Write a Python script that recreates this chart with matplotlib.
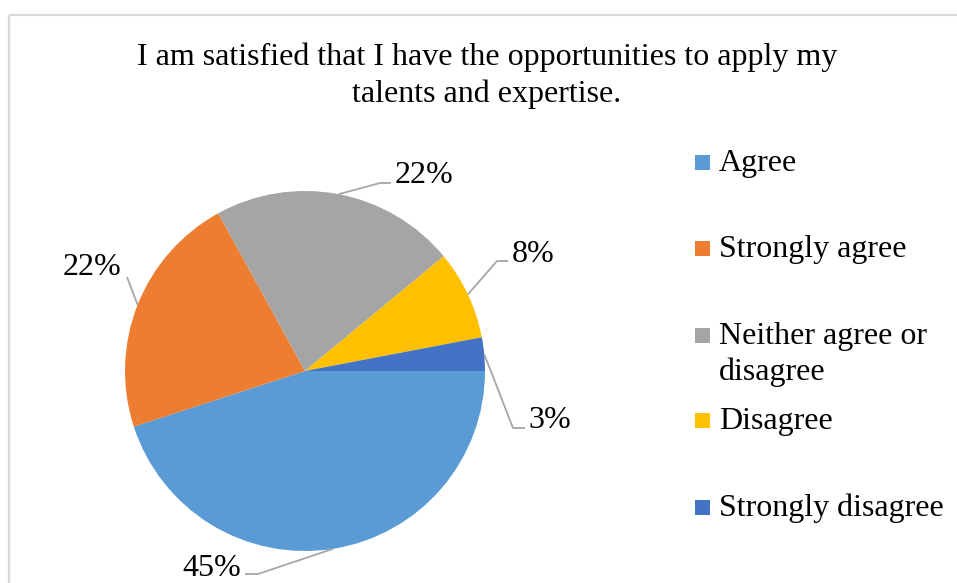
import numpy as np
import matplotlib.pyplot as plt
from matplotlib.patches import Rectangle

plt.rcParams['font.family'] = ['Liberation Serif', 'DejaVu Serif']

# survey answers
title = "I am satisfied that I have the opportunities to apply my\ntalents and expertise."
categories = ["Agree", "Strongly agree", "Neither agree or\ndisagree", "Disagree", "Strongly disagree"]
shares = [45, 22, 22, 8, 3]
pct_labels = ["45%", "22%", "22%", "8%", "3%"]
colors = ["#5B9BD5", "#ED7D31", "#A5A5A5", "#FFC000", "#4472C4"]

W, H = 957, 583
FS = 23
fig = plt.figure(figsize=(W / 100, H / 100), dpi=100)
ax = fig.add_axes([0, 0, 1, 1])

# pie in pixel units, y pointing down so slices run clockwise from 3 o'clock
cx, cy, r = 305, 371, 180
wedges, _ = ax.pie(shares, colors=colors, startangle=0, counterclock=True,
                   center=(cx, cy), radius=r, wedgeprops=dict(linewidth=0))
ax.set_xlim(0, W)
ax.set_ylim(H, 0)
ax.set_aspect('auto')
ax.axis('off')

# chart area border
ax.add_patch(Rectangle((9, 15), W, H, fill=False, ec='#D9D9D9', lw=1.6))

# title
for i, line in enumerate(title.split('\n')):
    ax.text(487, 65 + 37 * i, line, ha='center', va='baseline', fontsize=FS)

# data labels: text position, alignment, leader line points after the slice edge
label_layout = [
    (241, 576, 'right', [(258, 574), (245, 574)]),
    (63, 275, 'left', [(127, 277)]),
    (395, 183, 'left', [(380, 183), (391, 183)]),
    (512, 262, 'left', [(497, 261), (508, 261)]),
    (528, 428, 'left', [(513, 428), (525, 428)]),
]
for w, lab, (tx, ty, ha, path) in zip(wedges, pct_labels, label_layout):
    mid = np.deg2rad((w.theta1 + w.theta2) / 2)
    sx, sy = cx + r * np.cos(mid), cy + r * np.sin(mid)
    xs = [sx] + [p[0] for p in path]
    ys = [sy] + [p[1] for p in path]
    ax.plot(xs, ys, color='#A6A6A6', lw=1.3, solid_capstyle='butt')
    ax.text(tx, ty, lab, ha=ha, va='baseline', fontsize=FS)

# legend
legend_y = [163, 249, 336, 421, 508]
for cat, col, y in zip(categories, colors, legend_y):
    ax.add_patch(Rectangle((695, y - 8), 15, 15, color=col, lw=0))
    for j, line in enumerate(cat.split('\n')):
        ax.text(719, y + 8 + 36 * j, line, ha='left', va='baseline', fontsize=FS)

fig.savefig('out.png', dpi=100)
